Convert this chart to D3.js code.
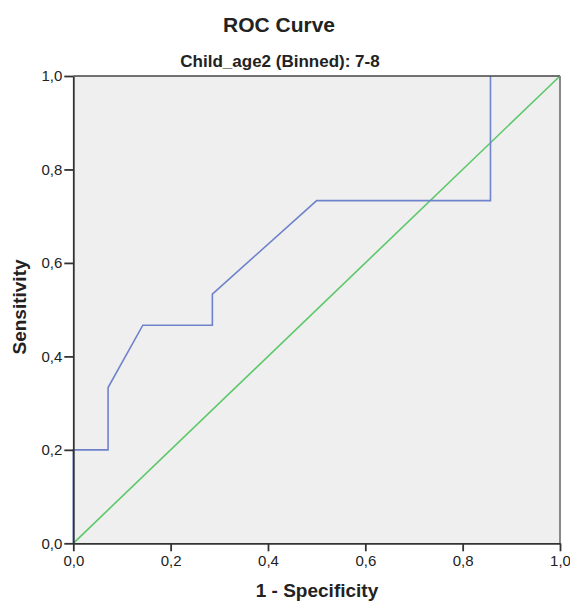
<!DOCTYPE html>
<html>
<head>
<meta charset="utf-8">
<script src="https://cdn.jsdelivr.net/npm/d3@7"></script>
<style>
body { margin: 0; background: #fff; }
text { font-family: "Liberation Sans", Arial, sans-serif; fill: #222; }
.tick text { font-size: 15px; }
.title { font-size: 21px; font-weight: bold; }
.subtitle { font-size: 17px; font-weight: bold; }
.axislabel { font-size: 19px; font-weight: bold; }
</style>
</head>
<body>
<svg id="chart" width="570" height="603"></svg>
<script>
var WIDTH = 570;
var HEIGHT = 603;

// ROC curve points (1 - specificity, sensitivity)
var fpr = [0, 0, 1/14, 1/14, 2/14, 4/14, 4/14, 7/14, 12/14, 12/14];
var tpr = [0, 3/15, 3/15, 5/15, 7/15, 7/15, 8/15, 11/15, 11/15, 1];
// reference diagonal
var refX = [0, 1];
var refY = [0, 1];
var tickValues = [0, 0.2, 0.4, 0.6, 0.8, 1.0];

var plotLeft = 73.3, plotRight = 560, plotTop = 76, plotBottom = 543.3;

var x = d3.scaleLinear().domain([0, 1]).range([plotLeft, plotRight]);
var y = d3.scaleLinear().domain([0, 1]).range([plotBottom, plotTop]);

var fmt = function(d){ return d3.format(".1f")(d).replace(".", ","); };

var svg = d3.select("#chart");

// plot background
svg.append("rect")
	.attr("x", plotLeft)
	.attr("y", plotTop)
	.attr("width", plotRight - plotLeft)
	.attr("height", plotBottom - plotTop)
	.attr("fill", "#efefef");

var line = d3.line()
	.x(function(d){ return x(d[0]); })
	.y(function(d){ return y(d[1]); });

svg.append("path")
	.datum(d3.zip(refX, refY))
	.attr("d", line)
	.attr("fill", "none")
	.attr("stroke", "#5cc86a")
	.attr("stroke-width", 1.6);

svg.append("path")
	.datum(d3.zip(fpr, tpr))
	.attr("d", line)
	.attr("fill", "none")
	.attr("stroke", "#6f83cc")
	.attr("stroke-width", 1.6);

// frame: top and right edges
svg.append("line")
	.attr("x1", plotLeft).attr("x2", plotRight)
	.attr("y1", plotTop).attr("y2", plotTop)
	.attr("stroke", "#444").attr("stroke-width", 1.5);
svg.append("line")
	.attr("x1", plotRight).attr("x2", plotRight)
	.attr("y1", plotTop).attr("y2", plotBottom)
	.attr("stroke", "#888").attr("stroke-width", 2);

// axes
var xAxis = svg.append("g")
	.attr("transform", "translate(0," + plotBottom + ")")
	.call(d3.axisBottom(x).tickValues(tickValues).tickFormat(fmt).tickSize(8).tickPadding(4).tickSizeOuter(0));

var yAxis = svg.append("g")
	.attr("transform", "translate(" + plotLeft + ",0)")
	.call(d3.axisLeft(y).tickValues(tickValues).tickFormat(fmt).tickSize(9).tickPadding(2).tickSizeOuter(0));

[xAxis, yAxis].forEach(function(a){
	a.select(".domain").attr("stroke", "#333").attr("stroke-width", 1.8);
	a.selectAll(".tick line").attr("stroke", "#333").attr("stroke-width", 1.8);
	a.selectAll(".tick text").attr("fill", "#222").style("font-size", "15px");
});

// titles
svg.append("text")
	.attr("class", "title")
	.attr("x", 279)
	.attr("y", 32)
	.attr("text-anchor", "middle")
	.text("ROC Curve");

svg.append("text")
	.attr("class", "subtitle")
	.attr("x", 280)
	.attr("y", 67)
	.attr("text-anchor", "middle")
	.text("Child_age2 (Binned): 7-8");

svg.append("text")
	.attr("class", "axislabel")
	.attr("x", 317)
	.attr("y", 597)
	.attr("text-anchor", "middle")
	.text("1 - Specificity");

svg.append("text")
	.attr("class", "axislabel")
	.attr("transform", "translate(26,307) rotate(-90)")
	.attr("text-anchor", "middle")
	.text("Sensitivity");
</script>
</body>
</html>
